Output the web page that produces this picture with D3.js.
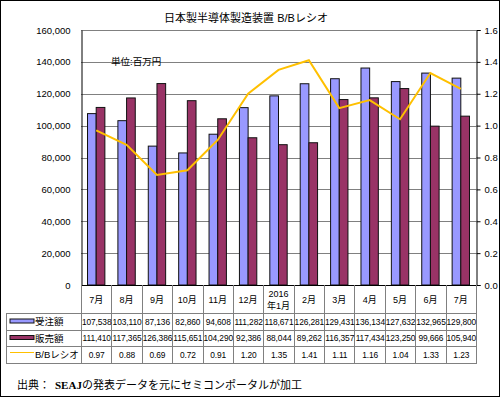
<!DOCTYPE html>
<html>
<head>
<meta charset="utf-8">
<script src="https://cdn.jsdelivr.net/npm/d3@7"></script>
<style>
  body { margin: 0; background: #fff; }
  text { font-family: Arial, "Liberation Sans", "Noto Sans CJK JP", sans-serif; fill: #000; }
</style>
</head>
<body>
<div id="js_chart"></div>
<script>
// Data
const months = ["7月", "8月", "9月", "10月", "11月", "12月", "2016\n年1月", "2月", "3月", "4月", "5月", "6月", "7月"];
const orders = [107538, 103110, 87136, 82860, 94608, 111282, 118671, 126281, 129431, 136134, 127632, 132965, 129800];
const sales = [111410, 117365, 126386, 115651, 104290, 92386, 88044, 89262, 116357, 117434, 123250, 99666, 105940];
const bbRatio = [0.97, 0.88, 0.69, 0.72, 0.91, 1.20, 1.35, 1.41, 1.11, 1.16, 1.04, 1.33, 1.23];
const seriesNames = ["受注額", "販売額", "B/Bレシオ"];
const leftTicks = [0, 20000, 40000, 60000, 80000, 100000, 120000, 140000, 160000];
const rightTicks = [0, 0.2, 0.4, 0.6, 0.8, 1.0, 1.2, 1.4, 1.6];

const W = 500, H = 397;
const plot = {left: 81, right: 476, top: 30, bottom: 285};
const colBlue = "#9999ff", colPurple = "#993366", colLine = "#ffc000", gridCol = "#808080";

const svg = d3.select("#js_chart").append("svg")
    .attr("width", W).attr("height", H);

// outer frame
svg.append("rect").attr("x", 0.5).attr("y", 0.5).attr("width", W - 1).attr("height", H - 1)
    .attr("fill", "#fff").attr("stroke", "#000");

// Scales
let x = d3.scaleBand().domain(d3.range(months.length)).range([plot.left, plot.right]);
let yL = d3.scaleLinear().domain([0, 160000]).range([plot.bottom, plot.top]);
let yR = d3.scaleLinear().domain([0, 1.6]).range([plot.bottom, plot.top]);

const bw = x.bandwidth() / 3.5;          // bar width (gap 150%)
const off = bw * 0.75;

// Gridlines
svg.append("g").selectAll("line").data(leftTicks.slice(1)).enter().append("line")
    .attr("x1", plot.left).attr("x2", plot.right)
    .attr("y1", d => Math.round(yL(d)) + 0.5).attr("y2", d => Math.round(yL(d)) + 0.5)
    .attr("stroke", gridCol);

// Title
svg.append("text").attr("x", 246).attr("y", 22).attr("text-anchor", "middle")
    .style("font-size", "11px").text("日本製半導体製造装置 B/Bレシオ");

svg.append("text").attr("x", 111).attr("y", 65)
    .style("font-size", "9.5px").text("単位:百万円");

// Bars
let gBars = svg.append("g");
gBars.selectAll("rect.o").data(orders).enter().append("rect").attr("class", "o")
    .attr("x", (d, i) => x(i) + off).attr("width", bw)
    .attr("y", d => yL(d)).attr("height", d => yL(0) - yL(d))
    .attr("fill", colBlue).attr("stroke", "#111").attr("stroke-width", 1);
gBars.selectAll("rect.s").data(sales).enter().append("rect").attr("class", "s")
    .attr("x", (d, i) => x(i) + off + bw).attr("width", bw)
    .attr("y", d => yL(d)).attr("height", d => yL(0) - yL(d))
    .attr("fill", colPurple).attr("stroke", "#111").attr("stroke-width", 1);

// Line
let line = d3.line().x((d, i) => x(i) + x.bandwidth() / 2).y(d => yR(d));
svg.append("path").datum(bbRatio).attr("d", line)
    .attr("fill", "none").attr("stroke", colLine).attr("stroke-width", 2);

// Axes
let axL = svg.append("g").attr("transform", "translate(" + (plot.left + 0.5) + ",0)")
    .call(d3.axisLeft(yL).tickValues(leftTicks).tickSize(0).tickPadding(11).tickFormat(d3.format(",")));
let axR = svg.append("g").attr("transform", "translate(" + (plot.right + 0.5) + ",0)")
    .call(d3.axisRight(yR).tickValues(rightTicks).tickSize(4).tickPadding(4).tickFormat(d3.format(".1f")));
[axL, axR].forEach(a => {
    a.select(".domain").attr("stroke", "#000");
    a.selectAll(".tick line").attr("stroke", "#000");
    a.selectAll("text").style("font-size", "9.5px").style("font-family", "Arial, 'Liberation Sans', sans-serif");
});
svg.append("line").attr("x1", plot.left).attr("x2", plot.right + 1)
    .attr("y1", plot.bottom + 0.5).attr("y2", plot.bottom + 0.5).attr("stroke", "#000");

// Data table
const rows = [313, 330, 346, 363];
const tableLeft = 6;
let gT = svg.append("g").attr("stroke", gridCol).attr("shape-rendering", "crispEdges");
// vertical lines (header + rows)
d3.range(months.length + 1).forEach(i => {
    let xx = i < months.length ? x(i) : plot.right;
    gT.append("line").attr("x1", Math.round(xx) + 0.5).attr("x2", Math.round(xx) + 0.5)
        .attr("y1", plot.bottom).attr("y2", rows[3]);
});
gT.append("line").attr("x1", tableLeft + 0.5).attr("x2", tableLeft + 0.5).attr("y1", rows[0]).attr("y2", rows[3]);
rows.forEach(r => {
    gT.append("line").attr("x1", tableLeft).attr("x2", plot.right + 1)
        .attr("y1", r + 0.5).attr("y2", r + 0.5);
});

// header labels
months.forEach((m, i) => {
    let parts = m.split("\n");
    let cx = x(i) + x.bandwidth() / 2;
    if (parts.length === 1) {
        svg.append("text").attr("x", cx).attr("y", 303).attr("text-anchor", "middle")
            .style("font-size", "9px").text(m);
    } else {
        svg.append("text").attr("x", cx).attr("y", 297).attr("text-anchor", "middle")
            .style("font-size", "9px").text(parts[0]);
        svg.append("text").attr("x", cx).attr("y", 309).attr("text-anchor", "middle")
            .style("font-size", "9px").text(parts[1]);
    }
});

// table values
const tableData = [orders.map(d3.format(",")), sales.map(d3.format(",")), bbRatio.map(d3.format(".2f"))];
tableData.forEach((vals, r) => {
    let cy = (rows[r] + rows[r + 1]) / 2 + 3;
    vals.forEach((v, i) => {
        svg.append("text").attr("x", x(i) + x.bandwidth() / 2 + 0.5).attr("y", cy)
            .attr("text-anchor", "middle").style("font-size", "8.4px").style("letter-spacing", "-0.1px").text(v);
    });
});

// legend keys
const keyX = 10, keyW = 24;
svg.append("rect").attr("x", keyX).attr("y", 319).attr("width", keyW).attr("height", 4)
    .attr("fill", colBlue).attr("stroke", "#111");
svg.append("rect").attr("x", keyX).attr("y", 335.5).attr("width", keyW).attr("height", 4)
    .attr("fill", colPurple).attr("stroke", "#111");
svg.append("line").attr("x1", keyX).attr("x2", keyX + keyW).attr("y1", 352.5).attr("y2", 352.5)
    .attr("stroke", colLine).attr("stroke-width", 1);
seriesNames.forEach((n, r) => {
    svg.append("text").attr("x", 35).attr("y", (rows[r] + rows[r + 1]) / 2 + 3.5)
        .style("font-size", "9.5px").text(n);
});

// Source note
let note = svg.append("text").attr("x", 17).attr("y", 389).style("font-size", "11px")
    .style("font-family", "'Liberation Serif', 'DejaVu Serif', 'Noto Sans CJK JP', serif");
note.append("tspan").text("出典：");
note.append("tspan").attr("x", 55).style("font-weight", "bold").text("SEAJ");
note.append("tspan").text("の発表データを元にセミコンポータルが加工");
</script>
</body>
</html>
